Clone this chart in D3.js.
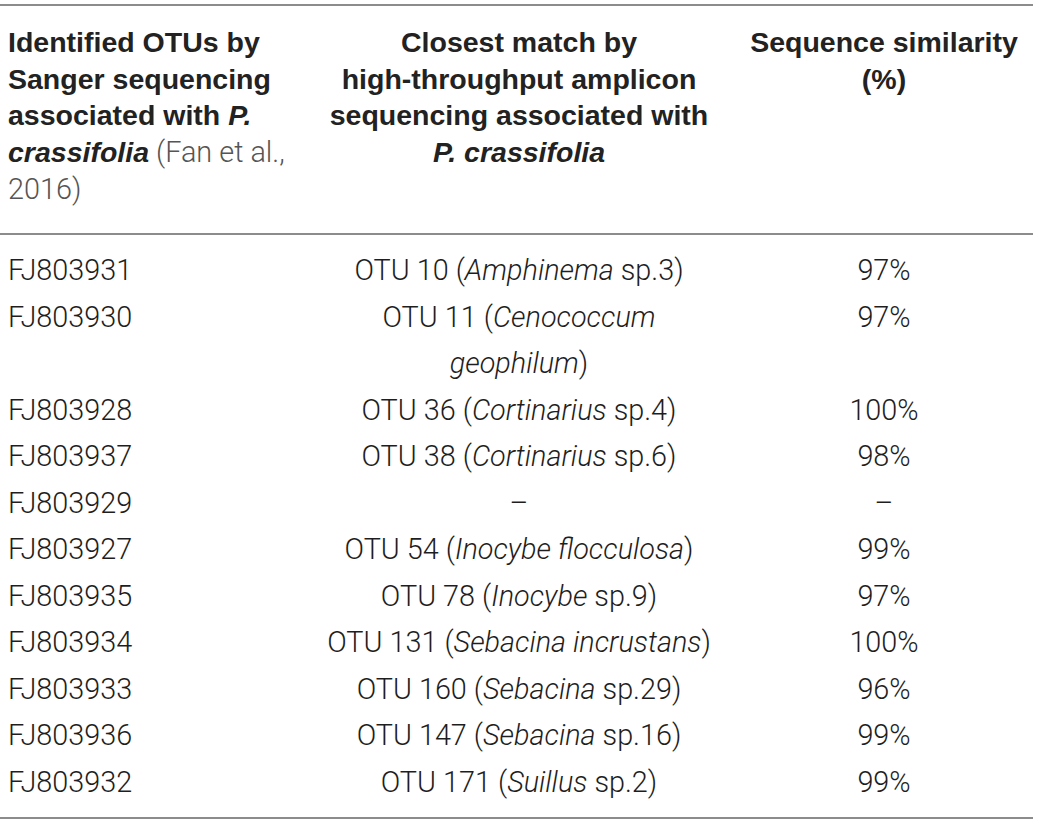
<!DOCTYPE html>
<html>
<head>
<meta charset="utf-8">
<script src="https://cdn.jsdelivr.net/npm/d3@7"></script>
<style>
  body { margin: 0; background: #fff; }
  svg { display: block; }
</style>
</head>
<body>
<svg id="table" width="1039" height="824"></svg>
<script>
// table content
const sangerIds = [
  "FJ803931", "FJ803930", "FJ803928", "FJ803937", "FJ803929", "FJ803927",
  "FJ803935", "FJ803934", "FJ803933", "FJ803936", "FJ803932"
];
const otuIds = [
  "OTU 10", "OTU 11", "OTU 36", "OTU 38", null, "OTU 54",
  "OTU 78", "OTU 131", "OTU 160", "OTU 147", "OTU 171"
];
// italic part of the taxon name, then the upright rest
const taxonItalic = [
  "Amphinema", "Cenococcum geophilum", "Cortinarius", "Cortinarius", null,
  "Inocybe flocculosa", "Inocybe", "Sebacina incrustans", "Sebacina",
  "Sebacina", "Suillus"
];
const taxonRest = [
  " sp.3", "", " sp.4", " sp.6", null, "", " sp.9", "", " sp.29", " sp.16", " sp.2"
];
const similarity = ["97%", "97%", "100%", "98%", "–", "99%", "97%", "100%", "96%", "99%", "99%"];

const headers = [
  [
    { t: "Identified OTUs by Sanger sequencing associated with ", s: "b" },
    { t: "P. crassifolia", s: "bi" },
    { t: " (Fan et al., 2016)", s: "cite" }
  ],
  [
    { t: "Closest match by high-throughput amplicon sequencing associated with ", s: "b" },
    { t: "P. crassifolia", s: "bi" }
  ],
  [{ t: "Sequence similarity (%)", s: "b" }]
];

const W = 1039;
const headFont = "'Liberation Sans', Arial, Helvetica, sans-serif";
const bodyFont = "Roboto, 'Liberation Sans', Arial, sans-serif";
const headSize = 28.5;
const bodySize = 28.8;

const cols = [
  { x: 8, anchor: "start", width: 300 },
  { x: 519, anchor: "middle", width: 398 },
  { x: 884, anchor: "middle", width: 295 }
];

const rules = [5, 234, 818];
const headTop = 52, headStep = 36.7;
const bodyTop = 280, bodyStep = 46.5;

const svg = d3.select("#table");

function styleSpan(sel, s, size) {
  const bold = s === "b" || s === "bi";
  sel
    .attr("font-size", s === "cite" ? bodySize : size)
    .attr("font-family", bold ? headFont : bodyFont)
    .attr("font-weight", bold ? 700 : 300)
    .attr("font-style", s === "bi" || s === "i" ? "italic" : "normal")
    .attr("fill", s === "cite" ? "#555" : bold ? "#222" : "#1e1e1e");
}

// group run pieces into words; a piece starting with a space opens a new word
function toWords(runs) {
  const words = [];
  runs.forEach((r) => {
    r.t.split(/(?= )/).forEach((p) => {
      if (!p.length) return;
      if (!words.length || p[0] === " ") words.push([{ t: p, s: r.s }]);
      else words[words.length - 1].push({ t: p, s: r.s });
    });
  });
  return words;
}

const measure = svg.append("text").attr("x", -2000).attr("y", -2000);
function widthOf(runs, size) {
  measure.selectAll("tspan").remove();
  runs.forEach((r) => measure.append("tspan").text(r.t).call(styleSpan, r.s, size));
  return measure.node().getComputedTextLength();
}

function wrapRuns(runs, maxWidth, size) {
  const words = toWords(runs);
  const lines = [];
  let line = [];
  words.forEach((w) => {
    const trial = line.concat(w);
    if (line.length && widthOf(trial, size) > maxWidth) {
      lines.push(line);
      line = w.map((p, j) => (j === 0 ? { t: p.t.replace(/^ /, ""), s: p.s } : p));
    } else {
      line = trial;
    }
  });
  if (line.length) lines.push(line);
  return lines;
}

function drawLines(lines, col, y0, step, size) {
  lines.forEach((line, i) => {
    const text = svg
      .append("text")
      .attr("x", col.x)
      .attr("y", y0 + i * step)
      .attr("text-anchor", col.anchor)
      .attr("xml:space", "preserve");
    line.forEach((r) => text.append("tspan").text(r.t).call(styleSpan, r.s, size));
  });
}

// header
headers.forEach((runs, ci) => {
  drawLines(wrapRuns(runs, cols[ci].width, headSize), cols[ci], headTop, headStep, headSize);
});

// body rows
const rows = sangerIds.map((id, i) => [
  [{ t: id, s: "r" }],
  otuIds[i] === null
    ? [{ t: "–", s: "r" }]
    : [
        { t: otuIds[i] + " (", s: "r" },
        { t: taxonItalic[i], s: "i" },
        { t: taxonRest[i] + ")", s: "r" }
      ].filter((r) => r.t.length),
  [{ t: similarity[i], s: "r" }]
]);

let lineIndex = 0;
rows.forEach((cells) => {
  const wrapped = cells.map((runs, ci) => wrapRuns(runs, cols[ci].width, bodySize));
  wrapped.forEach((lines, ci) =>
    drawLines(lines, cols[ci], bodyTop + lineIndex * bodyStep, bodyStep, bodySize)
  );
  lineIndex += d3.max(wrapped, (l) => l.length);
});

measure.remove();

svg
  .selectAll(".rule")
  .data(rules)
  .join("line")
  .attr("class", "rule")
  .attr("x1", 0)
  .attr("x2", W - 6)
  .attr("y1", (d) => d)
  .attr("y2", (d) => d)
  .attr("stroke", "#8c8c8c")
  .attr("stroke-width", 2);
</script>
</body>
</html>
